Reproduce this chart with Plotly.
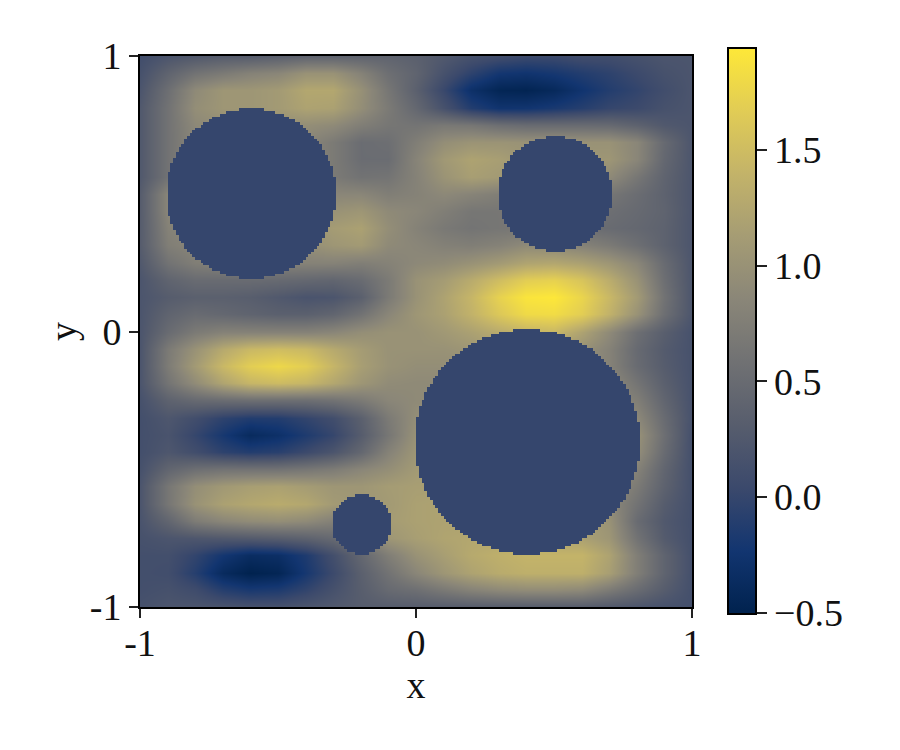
import numpy as np
import plotly.graph_objects as go

x_vals = [-1, -.9, -.8, -.7, -.6, -.5, -.4, -.3, -.2, -.1, 0, .1, .2, .3, .4, .5, .6, .7, .8, .9, 1]
y_vals = [1, .9375, .875, .8125, .75, .6875, .625, .5625, .5, .4375, .375, .3125, .25, .1875, .125, .0625, 0,
          -.0625, -.125, -.1875, -.25, -.3125, -.375, -.4375, -.5, -.5625, -.625, -.6875, -.75, -.8125, -.875, -.9375, -1]

z_vals = [
 [.1,.2,.25,.3,.3,.35,.4,.4,.4,.4,.35,.25,.15,.1,.05,.05,.1,.1,.15,.2,.2],
 [.15,.4,.6,.7,.8,.85,1.0,1.0,.8,.55,.4,.15,-.05,-.22,-.25,-.2,-.12,-.05,.05,.15,.2],
 [.2,.55,.9,1.05,1.05,1.1,1.25,1.25,.98,.65,.35,.02,-.3,-.45,-.47,-.4,-.25,-.12,-.02,.1,.2],
 [.25,.6,.95,1.05,1.05,1.1,1.2,1.18,.95,.7,.45,.15,-.12,-.25,-.24,-.18,-.1,0,.05,.15,.2],
 [.25,.6,.88,.95,.95,.95,.95,.9,.75,.65,.62,.68,.65,.55,.5,.5,.5,.48,.38,.25,.2],
 [.25,.6,.85,.9,.9,.9,.85,.7,.52,.55,.75,.95,1.02,1.02,1.0,1.0,1.0,1.0,.85,.48,.2],
 [.25,.6,.85,.9,.9,.9,.85,.7,.52,.52,.82,1.08,1.2,1.15,1.05,1.0,1.05,1.05,.85,.45,.2],
 [.25,.6,.85,.9,.9,.9,.9,.7,.6,.62,.8,1.02,1.15,1.1,1.0,1.0,1.0,.9,.65,.4,.2],
 [.3,.85,.9,.9,.9,.9,.9,.85,.85,.75,.8,.88,.82,.75,.7,.7,.7,.65,.52,.38,.2],
 [.3,.85,.9,.9,.9,.9,.95,1.0,1.05,.9,.85,.75,.65,.65,.65,.6,.58,.55,.48,.4,.2],
 [.3,.8,.9,.9,.9,.95,1.0,1.12,1.18,.95,.8,.68,.62,.65,.65,.6,.55,.5,.45,.38,.2],
 [.3,.75,.85,.9,.9,.9,.95,1.05,1.1,.9,.85,.78,.75,.8,.9,.88,.8,.7,.55,.38,.2],
 [.25,.6,.75,.8,.8,.8,.8,.8,.75,.8,.88,.92,1.0,1.1,1.22,1.25,1.18,1.05,.85,.5,.2],
 [.2,.4,.5,.5,.5,.48,.45,.42,.5,.7,1.0,1.12,1.3,1.5,1.68,1.72,1.58,1.32,1.0,.55,.2],
 [.2,.3,.35,.35,.32,.25,.18,.2,.35,.7,1.0,1.2,1.42,1.72,1.9,1.93,1.75,1.45,1.1,.6,.2],
 [.2,.4,.5,.45,.4,.35,.35,.42,.6,.85,1.05,1.18,1.38,1.62,1.8,1.82,1.68,1.38,1.0,.55,.2],
 [.2,.5,.7,.8,.8,.8,.8,.85,.95,1.0,1.0,1.08,1.18,1.3,1.4,1.45,1.2,.9,.55,.33,.15],
 [.2,.7,1.0,1.28,1.45,1.5,1.45,1.28,1.12,1.0,1.0,1.0,1.05,1.1,1.1,1.1,1.0,.8,.48,.28,.15],
 [.2,.72,1.1,1.45,1.68,1.78,1.68,1.42,1.15,1.0,.95,.95,.95,.95,.95,.95,.95,.8,.5,.3,.15],
 [.2,.62,.92,1.22,1.42,1.48,1.42,1.25,1.05,.92,.9,.9,.9,.9,.9,.9,.9,.9,.62,.35,.15],
 [.15,.38,.48,.52,.55,.55,.55,.6,.7,.85,.9,.9,.9,.9,.9,.9,.9,.9,.75,.42,.15],
 [.12,.22,.1,-.05,-.13,-.12,-.02,.1,.35,.7,.95,.95,.95,.95,.95,.95,.95,.95,.88,.5,.15],
 [.12,.18,0,-.2,-.38,-.3,-.15,0,.3,.65,1.0,1.0,1.0,1.0,1.0,1.0,1.0,1.0,1.0,.55,.12],
 [.12,.22,.1,-.05,-.12,-.08,.05,.2,.45,.8,1.05,1.05,1.05,1.05,1.05,1.05,1.05,1.05,.95,.5,.12],
 [.15,.42,.55,.6,.6,.6,.65,.72,.85,.95,1.1,1.1,1.1,1.1,1.1,1.1,1.1,1.05,.8,.42,.12],
 [.2,.65,.95,1.08,1.15,1.18,1.12,1.05,1.05,1.12,1.15,1.15,1.15,1.15,1.15,1.15,1.1,.95,.7,.38,.12],
 [.2,.65,1.0,1.18,1.25,1.3,1.25,1.1,1.05,1.1,1.18,1.2,1.2,1.2,1.2,1.2,1.1,.9,.6,.3,.12],
 [.18,.42,.72,.85,.92,.95,.9,.78,.9,1.12,1.18,1.2,1.2,1.2,1.2,1.2,1.15,1.0,.5,.25,.12],
 [.15,.2,.22,.25,.28,.32,.38,.48,.7,1.05,1.15,1.22,1.25,1.25,1.25,1.22,1.18,1.05,.6,.28,.12],
 [.12,.12,-.02,-.22,-.35,-.32,-.15,.12,.45,.75,1.0,1.15,1.28,1.35,1.4,1.4,1.4,1.2,.75,.4,.12],
 [.12,.1,-.1,-.38,-.5,-.45,-.2,.05,.35,.6,.85,1.05,1.2,1.3,1.35,1.35,1.35,1.15,.75,.4,.12],
 [.12,.15,.08,-.1,-.18,-.15,-.02,.15,.32,.48,.55,.68,.8,.88,.92,.92,.88,.7,.5,.3,.12],
 [.15,.2,.2,.18,.15,.15,.2,.25,.3,.3,.3,.3,.3,.3,.3,.3,.3,.25,.2,.15,.12],
]

# the four holes: centre x, centre y, radius
hole_x = [-.597, .503, .403, -.197]
hole_y = [.5, .5, -.4, -.7]
hole_r = [.308, .208, .408, .108]
hole_value = 0.0

z_min, z_max = -0.505, 1.94
FONT = "Liberation Serif"

# hole mask on a 200 x 200 cell grid, as fine as the reference's stepped edges
cells = np.linspace(-.995, .995, 200)
gx, gy = np.meshgrid(cells, cells)
inside = np.zeros_like(gx, dtype=bool)
for cx, cy, r in zip(hole_x, hole_y, hole_r):
    inside |= (gx - cx) ** 2 + (gy - cy) ** 2 <= r ** 2
mask = np.where(inside, hole_value, np.nan)

fig = go.Figure()
fig.add_trace(go.Heatmap(
    x=x_vals, y=y_vals, z=z_vals, zsmooth="best", colorscale="Cividis", zmin=z_min, zmax=z_max,
    colorbar=dict(
        x=1.0651, xanchor="left", y=1.0145, yanchor="top", thickness=28, thicknessmode="pixels",
        len=566, lenmode="pixels", outlinewidth=2, outlinecolor="black", xpad=0, ypad=0,
        ticks="outside", ticklen=10, tickwidth=2, tickcolor="#222",
        tickvals=[-.5, 0, .5, 1, 1.5], ticktext=["−0.5", "0.0", "0.5", "1.0", "1.5"],
        tickfont=dict(family=FONT, size=38, color="#111"),
    ),
))
fig.add_trace(go.Heatmap(
    x=cells, y=cells, z=mask, colorscale="Cividis", zmin=z_min, zmax=z_max, showscale=False, hoverongaps=False,
))

axis = dict(
    range=[-1, 1], tickvals=[-1, 0, 1], ticktext=["-1", "0", "1"], ticks="outside", ticklen=9, tickwidth=2,
    tickcolor="#222", showline=True, linewidth=2, linecolor="black", mirror=True, showgrid=False, zeroline=False,
    tickfont=dict(family=FONT, size=38, color="#111"),
)
fig.update_layout(
    width=884, height=734, autosize=False, paper_bgcolor="white", plot_bgcolor="white",
    margin=dict(l=132, r=200, t=48, b=135),
    xaxis=dict(axis, ticklabelstandoff=-8, title=dict(text="x", font=dict(family=FONT, size=38, color="#111"), standoff=6)),
    yaxis=dict(axis, title=dict(text="y", font=dict(family=FONT, size=38, color="#111"), standoff=1)),
)
fig.write_html("out.html")
